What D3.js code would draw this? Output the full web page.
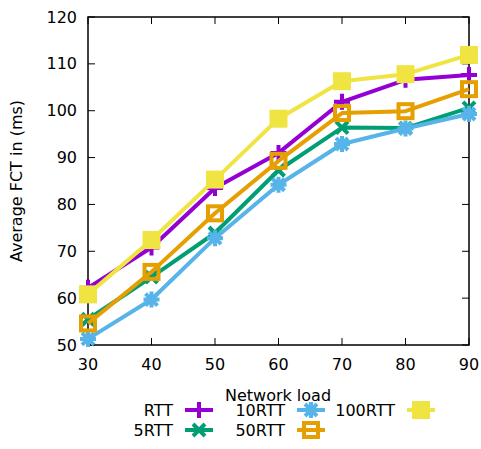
<!DOCTYPE html>
<html lang="en">
<head>
    <meta charset="utf-8">
    <title>Average FCT</title>
    <style>
        body { margin: 0; background: #fff; }
        text { font-family: "DejaVu Sans", sans-serif; font-size: 16px; fill: #000; }
    </style>
    <script src="https://d3js.org/d3.v7.min.js"></script>
</head>
<body>
<div id="chart"></div>
<script>
    const loads = [30, 40, 50, 60, 70, 80, 90];
    const rtt = [62.2, 70.8, 83.5, 91.0, 101.9, 106.6, 107.6];
    const rtt5 = [55.5, 64.5, 73.9, 87.3, 96.4, 96.3, 100.6];
    const rtt10 = [51.3, 59.7, 72.8, 84.2, 92.9, 96.2, 99.3];
    const rtt50 = [54.6, 65.6, 78.1, 89.3, 99.5, 99.9, 104.6];
    const rtt100 = [60.8, 72.4, 85.3, 98.3, 106.3, 107.8, 111.9];
    const seriesNames = ["RTT", "5RTT", "10RTT", "50RTT", "100RTT"];
    const yTicks = [50, 60, 70, 80, 90, 100, 110, 120];

    const seriesValues = [rtt, rtt5, rtt10, rtt50, rtt100];
    const colors = ["#9400d3", "#009e73", "#56b4e9", "#e69f00", "#f0e442"];
    const shapes = ["plus", "cross", "star", "box", "filledbox"];

    const margin = {top: 17, right: 12, bottom: 104, left: 88},
        width = 481 - margin.left - margin.right,
        height = 449 - margin.top - margin.bottom;

    const svg = d3.select("#chart")
        .append("svg")
        .attr("width", 481)
        .attr("height", 449)
        .append("g")
        .attr("transform", `translate(${margin.left},${margin.top})`);

    const x = d3.scaleLinear().domain([30, 90]).range([0, width]);
    const y = d3.scaleLinear().domain([50, 120]).range([height, 0]);

    // ticks on all four sides, pointing inward
    const tickLen = 7;
    const ax = svg.append("g").attr("stroke", "#000").attr("stroke-width", 1);
    loads.forEach(v => {
        ax.append("line").attr("x1", x(v)).attr("x2", x(v)).attr("y1", height).attr("y2", height - tickLen);
        ax.append("line").attr("x1", x(v)).attr("x2", x(v)).attr("y1", 0).attr("y2", tickLen);
    });
    yTicks.forEach(v => {
        ax.append("line").attr("x1", 0).attr("x2", tickLen).attr("y1", y(v)).attr("y2", y(v));
        ax.append("line").attr("x1", width).attr("x2", width - tickLen).attr("y1", y(v)).attr("y2", y(v));
    });

    svg.append("g").selectAll("text").data(loads).join("text")
        .attr("x", d => x(d))
        .attr("y", height + 25)
        .attr("text-anchor", "middle")
        .text(d => d);

    svg.append("g").selectAll("text").data(yTicks).join("text")
        .attr("x", -11)
        .attr("y", d => y(d))
        .attr("dy", "0.35em")
        .attr("text-anchor", "end")
        .text(d => d);

    svg.append("rect")
        .attr("width", width)
        .attr("height", height)
        .attr("fill", "none")
        .attr("stroke", "#000")
        .attr("stroke-width", 1.5);

    svg.append("text")
        .attr("x", -height / 2)
        .attr("y", -66)
        .attr("text-anchor", "middle")
        .attr("transform", "rotate(-90)")
        .text("Average FCT in (ms)");

    svg.append("text")
        .attr("x", 190)
        .attr("y", height + 56)
        .attr("text-anchor", "middle")
        .text("Network load");

    function drawPoint(g, shape, color, cx, cy) {
        const s = 8;
        if (shape === "plus") {
            g.append("path").attr("d", `M${cx - s},${cy}H${cx + s}M${cx},${cy - s}V${cy + s}`)
                .attr("stroke", color).attr("stroke-width", 4).attr("fill", "none");
        } else if (shape === "cross") {
            const c = 6;
            g.append("path").attr("d", `M${cx - c},${cy - c}L${cx + c},${cy + c}M${cx - c},${cy + c}L${cx + c},${cy - c}`)
                .attr("stroke", color).attr("stroke-width", 4).attr("fill", "none");
        } else if (shape === "star") {
            const c = 6;
            g.append("path").attr("d", `M${cx - s},${cy}H${cx + s}M${cx},${cy - s}V${cy + s}M${cx - c},${cy - c}L${cx + c},${cy + c}M${cx - c},${cy + c}L${cx + c},${cy - c}`)
                .attr("stroke", color).attr("stroke-width", 4).attr("fill", "none");
        } else if (shape === "box") {
            g.append("rect").attr("x", cx - 7).attr("y", cy - 7).attr("width", 14).attr("height", 14)
                .attr("stroke", color).attr("stroke-width", 4).attr("fill", "none");
        } else {
            g.append("rect").attr("x", cx - 9).attr("y", cy - 9).attr("width", 18).attr("height", 18)
                .attr("fill", color);
        }
    }

    const line = d3.line().x((d, i) => x(loads[i])).y(d => y(d));

    seriesValues.forEach((vals, k) => {
        const g = svg.append("g");
        g.append("path")
            .datum(vals)
            .attr("fill", "none")
            .attr("stroke", colors[k])
            .attr("stroke-width", 4)
            .attr("stroke-linejoin", "round")
            .attr("d", line);
        vals.forEach((v, i) => drawPoint(g, shapes[k], colors[k], x(loads[i]), y(v)));
    });

    // legend, filled column by column with two rows
    const legend = svg.append("g").attr("transform", `translate(${-margin.left},${-margin.top})`);
    const colRight = [173, 285, 395];
    const rowY = [410, 430];
    seriesNames.forEach((name, k) => {
        const col = Math.floor(k / 2), row = k % 2;
        const lx = colRight[col], ly = rowY[row];
        legend.append("text")
            .attr("x", lx)
            .attr("y", ly)
            .attr("dy", "0.35em")
            .attr("text-anchor", "end")
            .text(name);
        const g = legend.append("g");
        g.append("line")
            .attr("x1", lx + 12).attr("x2", lx + 40)
            .attr("y1", ly).attr("y2", ly)
            .attr("stroke", colors[k]).attr("stroke-width", 4);
        drawPoint(g, shapes[k], colors[k], lx + 26, ly);
    });
</script>
</body>
</html>
